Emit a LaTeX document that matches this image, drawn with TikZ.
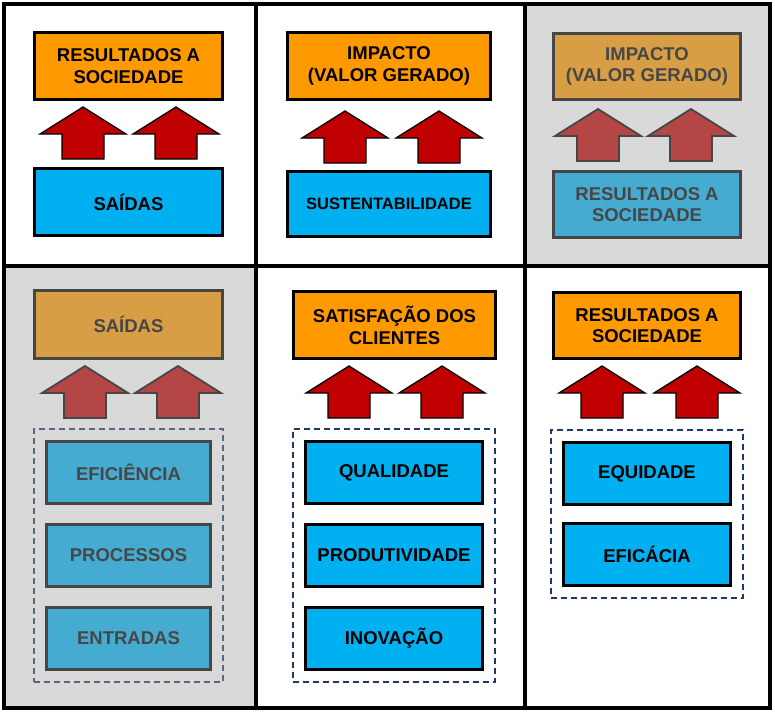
\documentclass[tikz,border=0pt]{standalone}
\usepackage{fontspec}
\setmainfont{Liberation Sans}
\usetikzlibrary{fit}

% palette
\definecolor{cellgray}{RGB}{217,217,217}
\definecolor{orangebox}{RGB}{255,153,0}
\definecolor{bluebox}{RGB}{0,176,240}
\definecolor{redarrow}{RGB}{192,0,0}
\definecolor{navydash}{RGB}{31,56,100}
% muted versions used on the shaded cells
\definecolor{orangefade}{RGB}{216,158,70}
\definecolor{bluefade}{RGB}{70,171,208}
\definecolor{redfade}{RGB}{180,70,70}
\definecolor{inkfade}{RGB}{70,70,70}
\definecolor{navyfade}{RGB}{88,102,127}

\tikzset{
  labeltext/.style={font=\bfseries\fontsize{18.5}{21.7}\selectfont, align=center},
  block/.style={labeltext, draw, line width=3pt, inner sep=0pt},
  obox/.style={block, fill=orangebox, draw=black, text=black},
  bbox/.style={block, fill=bluebox, draw=black, text=black},
  oboxfade/.style={block, fill=orangefade, draw=inkfade, text=inkfade},
  bboxfade/.style={block, fill=bluefade, draw=inkfade, text=inkfade},
  group/.style={draw=navydash, line width=1.6pt, dash pattern=on 6pt off 4pt, inner sep=11pt},
  groupfade/.style={group, draw=navyfade},
  uparrow/.pic={
    \path[pic actions] (0,0) -- (43,27) -- (21,27) -- (21,52) -- (-21,52)
      -- (-21,27) -- (-43,27) -- cycle;
  },
  arrowmain/.style={fill=redarrow, draw=black, line width=1.3pt},
  arrowfade/.style={fill=redfade, draw=inkfade, line width=1.8pt},
  grid/.style={draw=black, line width=4pt},
}

\begin{document}
\begin{tikzpicture}[x=1pt, y=-1pt]
\useasboundingbox (0,0) rectangle (775,712);

% shaded cells
\fill[cellgray] (524.5,4) rectangle (770,266);
\fill[cellgray] (4,266) rectangle (255.5,708);

% ---- top left
\node[obox, minimum width=188pt, minimum height=67pt] (tl-top) at (128.5,66) {RESULTADOS A\\SOCIEDADE};
\node[bbox, minimum width=188pt, minimum height=67pt] (tl-base) at (128.5,202) {SAÍDAS};
\pic[arrowmain] (tl-a1) at (83,107) {uparrow};
\pic[arrowmain] (tl-a2) at (176,107) {uparrow};

% ---- top middle
\node[obox, minimum width=203pt, minimum height=67pt] (tm-top) at (389,66) {IMPACTO\\(VALOR GERADO)};
\node[bbox, minimum width=203pt, minimum height=65pt, font=\bfseries\fontsize{16.5}{20}\selectfont] (tm-base) at (389,204) {SUSTENTABILIDADE};
\pic[arrowmain] (tm-a1) at (345,111) {uparrow};
\pic[arrowmain] (tm-a2) at (439,111) {uparrow};

% ---- top right (shaded)
\node[oboxfade, minimum width=187pt, minimum height=66pt] (tr-top) at (647,66.5) {IMPACTO\\(VALOR GERADO)};
\node[bboxfade, minimum width=187pt, minimum height=66pt] (tr-base) at (647,204.5) {RESULTADOS A\\SOCIEDADE};
\pic[arrowfade] (tr-a1) at (598,109) {uparrow};
\pic[arrowfade] (tr-a2) at (691,109) {uparrow};

% ---- bottom left (shaded)
\node[oboxfade, minimum width=188pt, minimum height=68pt] (bl-top) at (128.5,324.5) {SAÍDAS};
\pic[arrowfade] (bl-a1) at (85,366) {uparrow};
\pic[arrowfade] (bl-a2) at (178,366) {uparrow};
\node[bboxfade, minimum width=164pt, minimum height=62pt] (bl-1) at (128.5,472.5) {EFICIÊNCIA};
\node[bboxfade, minimum width=164pt, minimum height=62pt] (bl-2) at (128.5,555.5) {PROCESSOS};
\node[bboxfade, minimum width=164pt, minimum height=62pt] (bl-3) at (128.5,638.5) {ENTRADAS};
\node[groupfade, fit=(bl-1) (bl-3)] (bl-group) {};

% ---- bottom middle
\node[obox, minimum width=202pt, minimum height=67pt] (bm-top) at (394.5,325) {SATISFAÇÃO DOS\\CLIENTES};
\pic[arrowmain] (bm-a1) at (349,366) {uparrow};
\pic[arrowmain] (bm-a2) at (442,366) {uparrow};
\node[bbox, minimum width=177pt, minimum height=62pt] (bm-1) at (394,472.5) {QUALIDADE};
\node[bbox, minimum width=177pt, minimum height=62pt] (bm-2) at (394,555.5) {PRODUTIVIDADE};
\node[bbox, minimum width=177pt, minimum height=62pt] (bm-3) at (394,638.5) {INOVAÇÃO};
\node[group, fit=(bm-1) (bm-3)] (bm-group) {};

% ---- bottom right
\node[obox, minimum width=187pt, minimum height=66pt] (br-top) at (647,325.5) {RESULTADOS A\\SOCIEDADE};
\pic[arrowmain] (br-a1) at (602,366) {uparrow};
\pic[arrowmain] (br-a2) at (697,366) {uparrow};
\node[bbox, minimum width=167pt, minimum height=62pt] (br-1) at (647,473.5) {EQUIDADE};
\node[bbox, minimum width=167pt, minimum height=62pt] (br-2) at (647,554.5) {EFICÁCIA};
\node[group, fit=(br-1) (br-2)] (br-group) {};

% ---- frame and cell dividers
\draw[grid] (4,4) rectangle (770,708);
\draw[grid] (255.5,4) -- (255.5,708);
\draw[grid] (524.5,4) -- (524.5,708);
\draw[grid] (4,266) -- (770,266);
\end{tikzpicture}
\end{document}
